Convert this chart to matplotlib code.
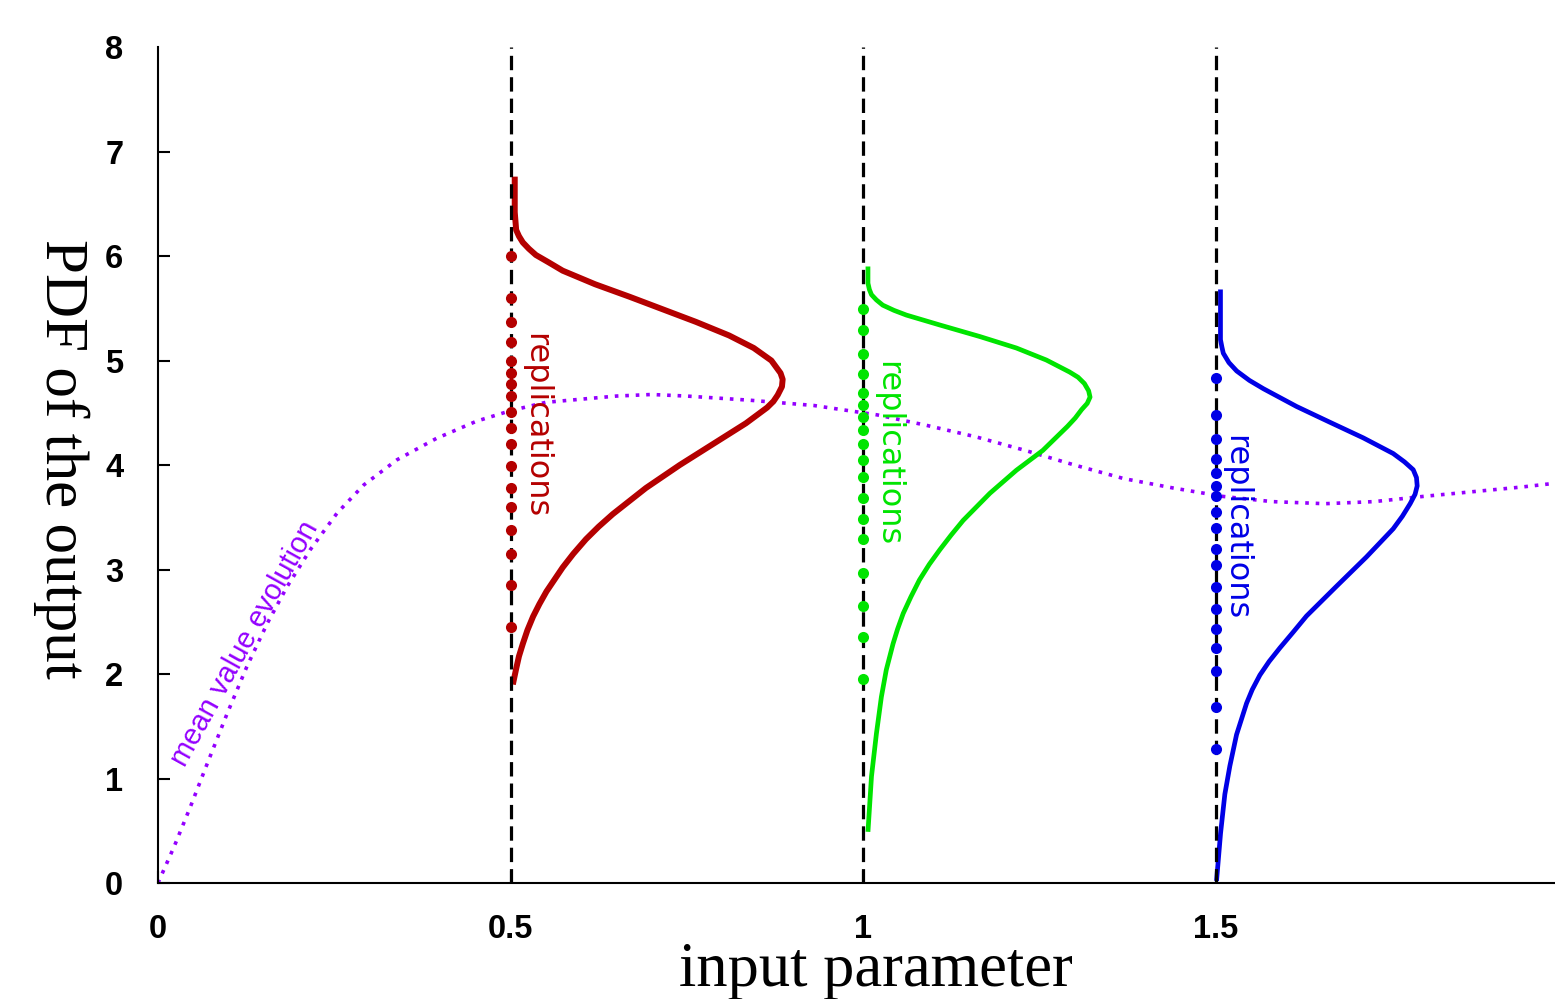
import numpy as np
import matplotlib.pyplot as plt

# input parameter values where replications were made
inputs = [0.5, 1.0, 1.5]

# sideways PDF curves: output value (y) and width of the pdf (added to the input)
red_y = [6.76, 6.42, 6.25, 6.19, 6.13, 6.07, 6.01, 5.94, 5.86, 5.73, 5.61, 5.49, 5.37, 5.24, 5.12, 5.00,
         4.88, 4.82, 4.75, 4.67, 4.61, 4.55, 4.40, 4.20, 4.00, 3.78, 3.53, 3.41, 3.29, 3.15, 3.02, 2.90,
         2.79, 2.67, 2.55, 2.42, 2.29, 2.17, 2.05, 1.90]
red_w = [0.006, 0.006, 0.008, 0.012, 0.0175, 0.026, 0.036, 0.054, 0.074, 0.12, 0.169, 0.216, 0.263, 0.31, 0.345, 0.370,
         0.383, 0.386, 0.385, 0.379, 0.373, 0.364, 0.334, 0.287, 0.24, 0.192, 0.145, 0.125, 0.107, 0.089, 0.074, 0.062,
         0.051, 0.041, 0.032, 0.024, 0.0175, 0.012, 0.008, 0.0033]

green_y = [5.90, 5.74, 5.68, 5.63, 5.58, 5.53, 5.48, 5.435, 5.34, 5.23, 5.12, 5.005, 4.89, 4.84, 4.78, 4.71,
           4.65, 4.59, 4.53, 4.45, 4.37, 4.14, 3.95, 3.73, 3.47, 3.33, 3.19, 3.05, 2.90, 2.74, 2.58, 2.43,
           2.29, 2.04, 1.78, 1.43, 1.02, 0.49]
green_w = [0.007, 0.007, 0.009, 0.012, 0.019, 0.028, 0.044, 0.0615, 0.109, 0.1655, 0.2175, 0.26, 0.293, 0.305, 0.314, 0.320,
           0.322, 0.318, 0.31, 0.301, 0.29, 0.255, 0.2175, 0.18, 0.142, 0.125, 0.109, 0.094, 0.080, 0.068, 0.057, 0.049,
           0.0426, 0.033, 0.026, 0.019, 0.012, 0.007]

blue_y = [5.68, 5.20, 5.13, 5.07, 4.98, 4.90, 4.81, 4.73, 4.56, 4.41, 4.26, 4.11, 4.03, 3.955, 3.88, 3.80,
          3.72, 3.63, 3.51, 3.39, 3.12, 2.84, 2.555, 2.40, 2.25, 2.12, 1.99, 1.85, 1.72, 1.42, 1.12, 0.85,
          0.475, 0.02]
blue_w = [0.007, 0.007, 0.009, 0.011, 0.019, 0.030, 0.048, 0.068, 0.115, 0.162, 0.2095, 0.252, 0.268, 0.2804, 0.285, 0.286,
          0.283, 0.276, 0.265, 0.252, 0.214, 0.1716, 0.129, 0.11, 0.0913, 0.076, 0.0629, 0.052, 0.044, 0.0298, 0.0203, 0.0132,
          0.0071, 0.0014]

# replication outputs (dots on the dashed lines)
red_reps = [6.00, 5.60, 5.37, 5.18, 5.00, 4.88, 4.78, 4.66, 4.51, 4.35, 4.20, 3.99, 3.78, 3.60, 3.38, 3.15, 2.85, 2.45]
green_reps = [5.49, 5.29, 5.06, 4.87, 4.69, 4.57, 4.46, 4.34, 4.20, 4.05, 3.89, 3.68, 3.48, 3.29, 2.97, 2.65, 2.35, 1.95]
blue_reps = [4.83, 4.48, 4.25, 4.06, 3.92, 3.80, 3.70, 3.55, 3.40, 3.20, 3.04, 2.83, 2.62, 2.43, 2.25, 2.03, 1.68, 1.28]

# mean value evolution
mean_x = [0.0, 0.023, 0.046, 0.070, 0.098, 0.126, 0.155, 0.183, 0.216, 0.254, 0.292, 0.339, 0.395, 0.452,
          0.50, 0.55, 0.65, 0.70, 0.75, 0.84, 0.93, 1.02, 1.09, 1.16, 1.23, 1.30, 1.37, 1.44, 1.51, 1.58,
          1.655, 1.725, 1.795, 1.865, 1.935, 2.0]
mean_y = [0.0, 0.35, 0.73, 1.145, 1.62, 2.07, 2.485, 2.835, 3.19, 3.54, 3.81, 4.05, 4.255, 4.42,
          4.52, 4.60, 4.66, 4.675, 4.66, 4.62, 4.57, 4.48, 4.38, 4.27, 4.14, 4.00, 3.87, 3.78, 3.70, 3.65,
          3.63, 3.65, 3.70, 3.745, 3.79, 3.84]

xticks = [0, 0.5, 1, 1.5, 2]
xtick_labels = ["0", "0.5", "1", "1.5", "2"]
yticks = [0, 1, 2, 3, 4, 5, 6, 7, 8]

RED, GREEN, BLUE, PURPLE = "#b40000", "#00e400", "#0000e6", "#9400ff"

fig = plt.figure(figsize=(15.55, 9.99), dpi=100)
# axes runs a bit past the right edge of the figure, like the original
ax = fig.add_axes([0.1016, 0.1161, 0.9068, 0.8368])

ax.plot(mean_x, mean_y, color=PURPLE, lw=2.6, linestyle=(0, (1, 1.9)), zorder=2)

ax.vlines(inputs, 0, 8, colors="black", linestyles=(0, (4.5, 2.2)), lw=2.3, zorder=4)

curves = [(red_y, red_w, red_reps, RED, 4.3, 0.536, 4.375),
          (green_y, green_w, green_reps, GREEN, 3.4, 1.035, 4.11),
          (blue_y, blue_w, blue_reps, BLUE, 3.4, 1.529, 3.40)]

for inp, (ys, ws, reps, col, lw, tx, ty) in zip(inputs, curves):
    ax.plot(inp + np.array(ws), ys, color=col, lw=lw, solid_capstyle="butt",
            solid_joinstyle="round", zorder=3)
    ax.plot([inp] * len(reps), reps, "o", color=col, ms=8, mew=0, zorder=5)
    ax.text(tx, ty, "replications", rotation=270, color=col, fontsize=23,
            family="DejaVu Sans", ha="center", va="center", zorder=6)

ax.text(0.123, 2.29, "mean value evolution", rotation=61, color=PURPLE, fontsize=21,
        family="Liberation Sans", ha="center", va="center", rotation_mode="anchor")

ax.set_xlim(0, 2)
ax.set_ylim(0, 8)
ax.set_xticks(xticks)
ax.set_xticklabels(xtick_labels)
ax.set_yticks(yticks)

for side in ["top", "right"]:
    ax.spines[side].set_visible(False)
for side in ["left", "bottom"]:
    ax.spines[side].set_linewidth(1.5)

ax.tick_params(direction="in", length=8.6, width=1.5)
ax.tick_params(axis="y", pad=25)
ax.tick_params(axis="x", pad=22)
ax.yaxis.get_major_ticks()[-1].tick1line.set_visible(False)
for lab in ax.get_xticklabels() + ax.get_yticklabels():
    lab.set_family("Liberation Sans")
    lab.set_fontweight("bold")
    lab.set_fontsize(23.5)

ax.set_xlabel("input parameter", family="Liberation Serif", fontsize=45, ha="center", va="center")
ax.xaxis.set_label_coords(0.509, -0.105)
ax.set_ylabel("PDF of the output", family="Liberation Serif", fontsize=44, rotation=270,
              ha="center", va="center")
ax.yaxis.set_label_coords(-0.0685, 0.507)

plt.savefig("out.png", dpi=100)
